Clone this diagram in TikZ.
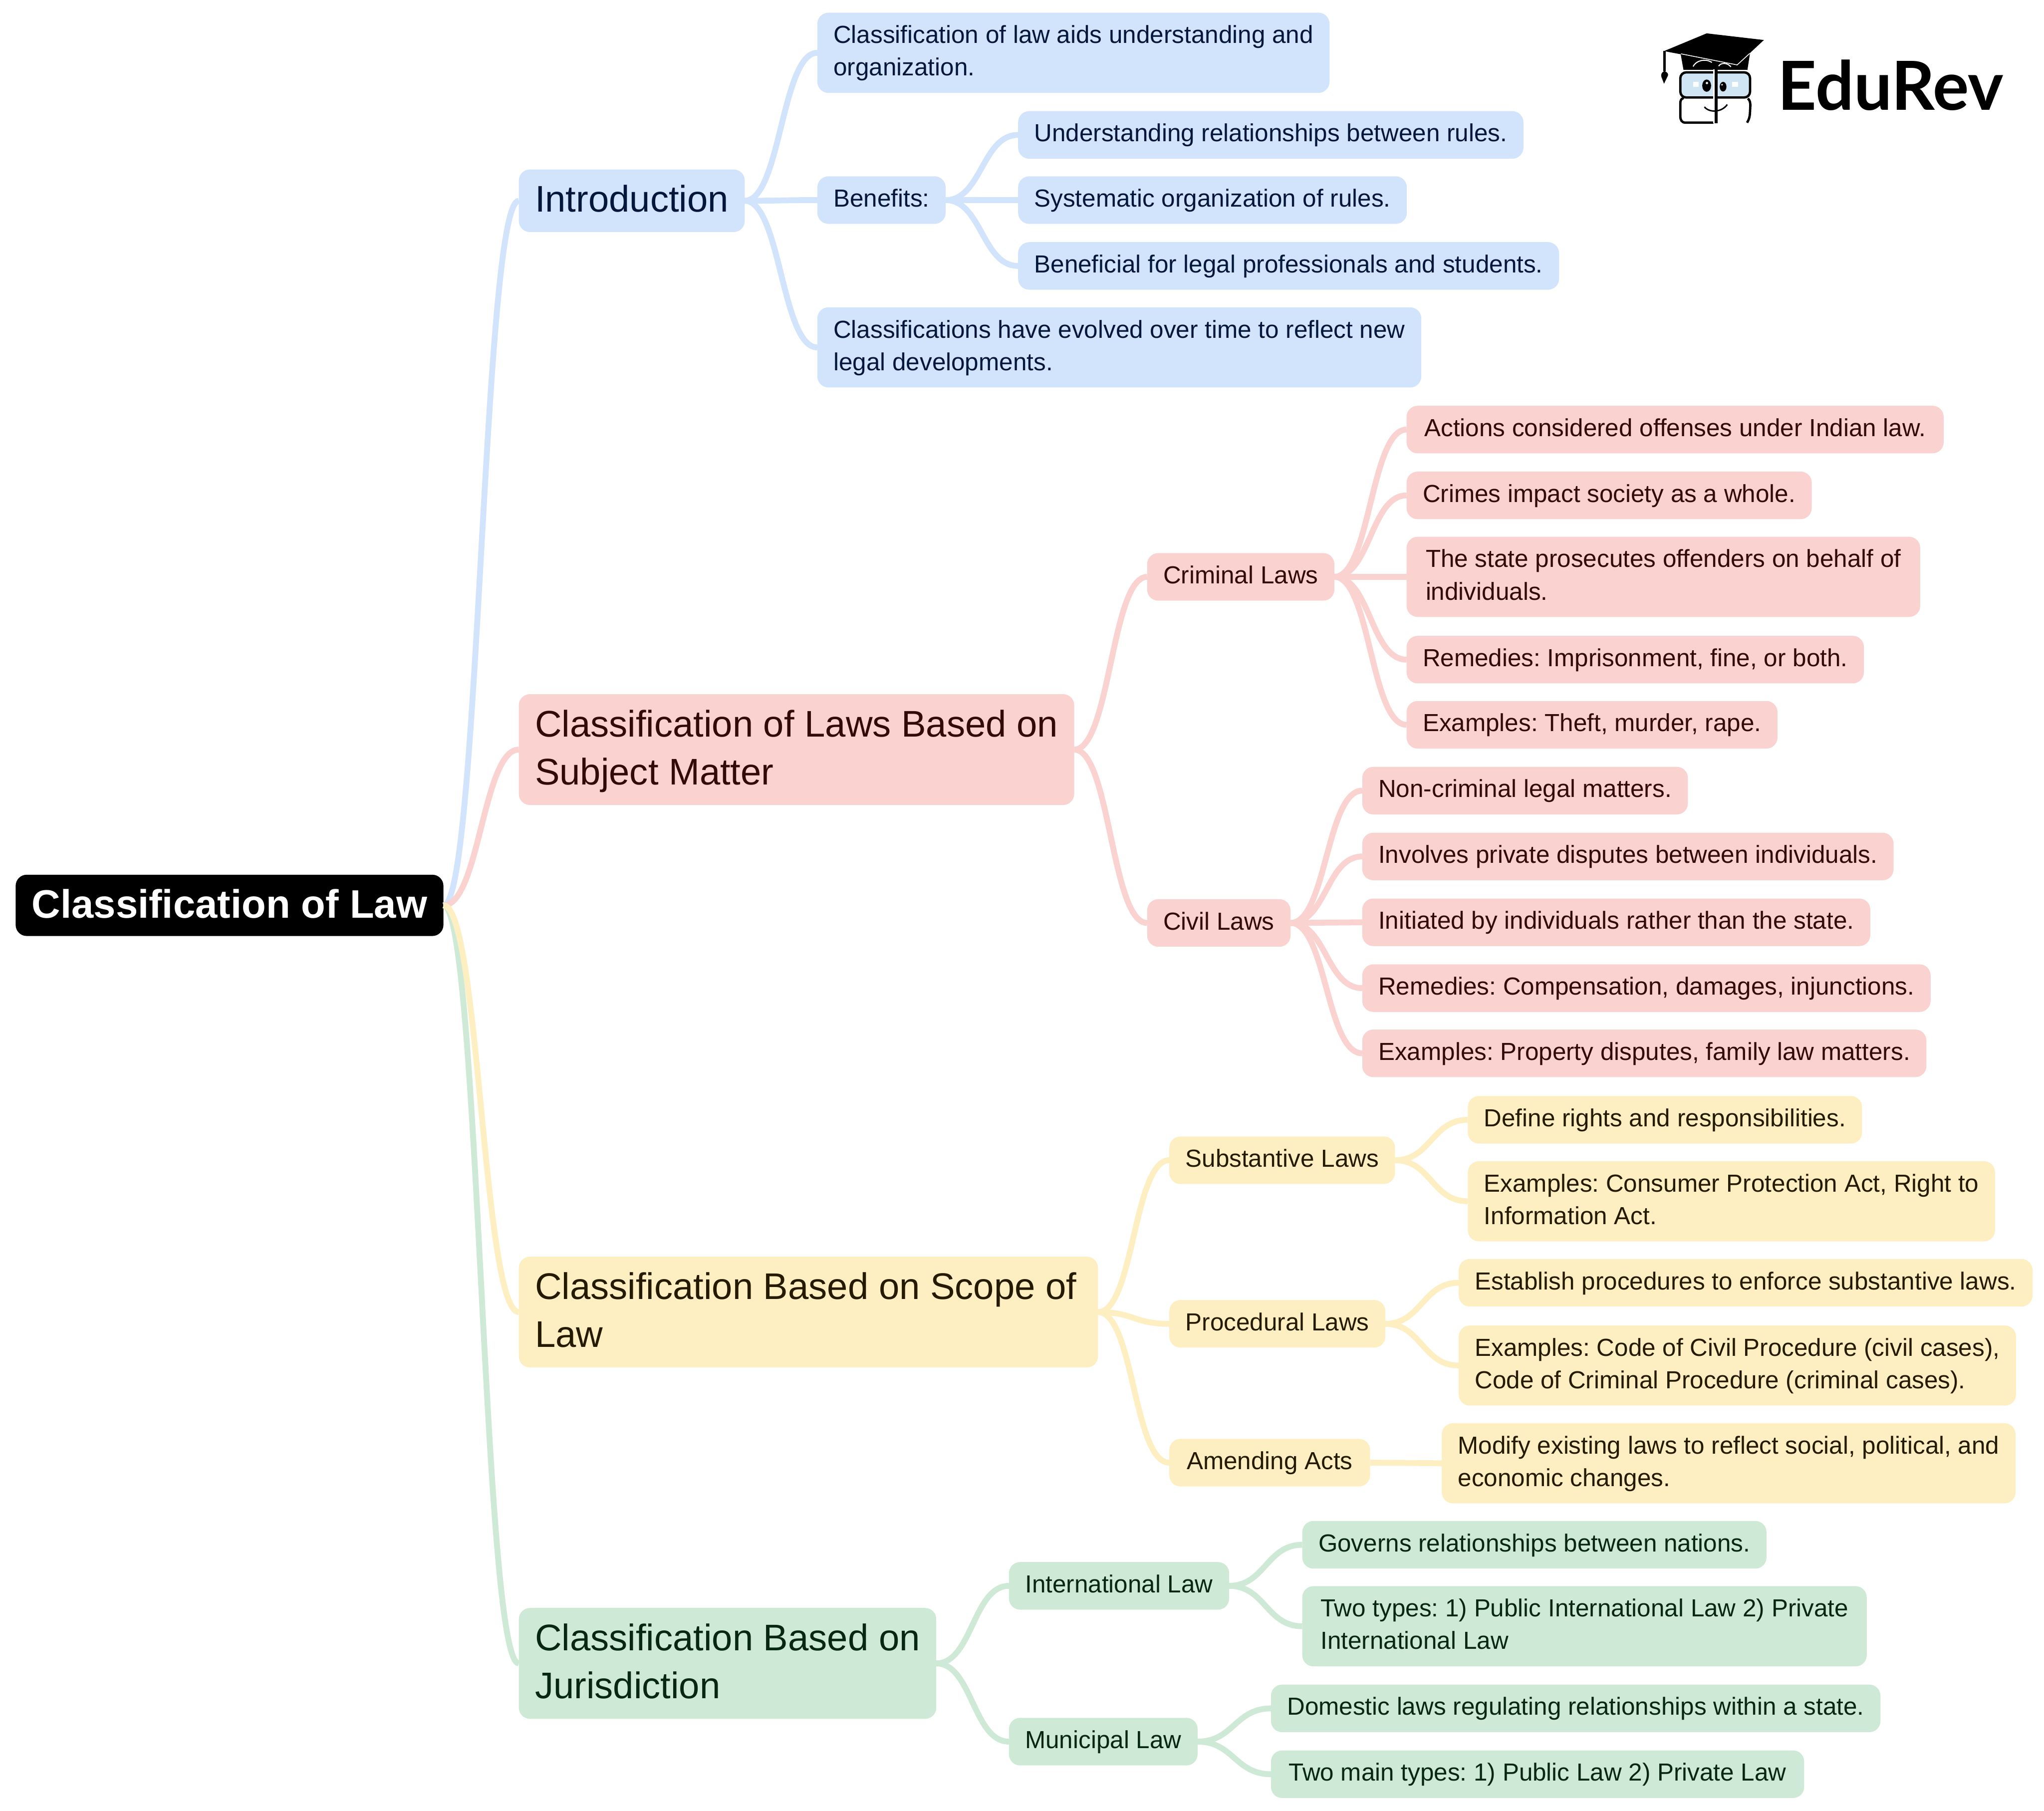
\documentclass[tikz,border=0pt]{standalone}
\usepackage{fontspec}
\setmainfont{Liberation Sans}
\newfontfamily\logofont{Lato}
\usetikzlibrary{positioning}
\definecolor{blueFill}{HTML}{D2E3FC}
\definecolor{blueText}{HTML}{03173A}
\definecolor{redFill}{HTML}{FAD2CF}
\definecolor{redText}{HTML}{330A07}
\definecolor{yellowFill}{HTML}{FEEFC3}
\definecolor{yellowText}{HTML}{241A00}
\definecolor{greenFill}{HTML}{CEEAD6}
\definecolor{greenText}{HTML}{072711}
\definecolor{lensColor}{HTML}{CFE5F3}
\newcommand{\boxfont}[3]{\fontsize{#1}{#2}\selectfont\setbox\strutbox\hbox{\vrule height #3\baselineskip depth \dimexpr\baselineskip-#3\baselineskip\relax width 0pt}}
\tikzset{
	box/.style={anchor=west, rounded corners=8.5pt, outer sep=0, inner xsep=6.4pt},
	leaf/.style={box, inner ysep=5.75pt, font=\boxfont{18.92}{25}{0.707}},
	branch/.style={box, inner ysep=5.5pt, font=\boxfont{28.42}{37}{0.731}},
	rootbox/.style={box, inner ysep=3.5pt, fill=black, text=white, font=\boxfont{30.5}{40}{0.746}\bfseries},
	blue/.style={fill=blueFill, text=blueText},
	red/.style={fill=redFill, text=redText},
	yellow/.style={fill=yellowFill, text=yellowText},
	green/.style={fill=greenFill, text=greenText},
	link/.style={line width=4.5pt, out=0, in=180, distance=27.5pt},
	bluelink/.style={link, draw=blueFill},
	redlink/.style={link, draw=redFill},
	yellowlink/.style={link, draw=yellowFill},
	greenlink/.style={link, draw=greenFill}
}
\frenchspacing

\begin{document}
\begin{tikzpicture}[x=1pt,y=-1pt]
	\useasboundingbox (0,0) rectangle (1568,1388.9);

	\node[rootbox] (root) at (12,694.5) {\begin{tabular}{l} Classification of Law \end{tabular}};

	% introduction
	\node[branch,blue] (intro) at (398,154) {\begin{tabular}{l} Introduction \end{tabular}};
	\node[leaf,blue] (aids) at (627,40.5) {\begin{tabular}{l} Classification of law aids understanding and \\ organization. \end{tabular}};
	\node[leaf,blue] (benefits) at (627,153.5) {\begin{tabular}{l} Benefits: \end{tabular}};
	\node[leaf,blue] (ben1) at (781,103.5) {\begin{tabular}{l} Understanding relationships between rules. \end{tabular}};
	\node[leaf,blue] (ben2) at (781,153.5) {\begin{tabular}{l} Systematic organization of rules. \end{tabular}};
	\node[leaf,blue] (ben3) at (781,204) {\begin{tabular}{l} Beneficial for legal professionals and students. \end{tabular}};
	\node[leaf,blue] (evolved) at (627,266.5) {\begin{tabular}{l} Classifications have evolved over time to reflect new \\ legal developments. \end{tabular}};

	% subject matter
	\node[branch,red] (subject) at (398,575) {\begin{tabular}{l} Classification of Laws Based on \\ Subject Matter \end{tabular}};
	\node[leaf,red] (criminal) at (880,442.5) {\begin{tabular}{l} Criminal Laws \end{tabular}};
	\node[leaf,red,minimum width=412pt] (crim1) at (1079,329.5) {\begin{tabular}{l} Actions considered offenses under Indian law. \end{tabular}};
	\node[leaf,red] (crim2) at (1079,380) {\begin{tabular}{l} Crimes impact society as a whole. \end{tabular}};
	\node[leaf,red,minimum width=394pt] (crim3) at (1079,442.5) {\begin{tabular}{l} The state prosecutes offenders on behalf of \\ individuals. \end{tabular}};
	\node[leaf,red] (crim4) at (1079,506) {\begin{tabular}{l} Remedies: Imprisonment, fine, or both. \end{tabular}};
	\node[leaf,red] (crim5) at (1079,556) {\begin{tabular}{l} Examples: Theft, murder, rape. \end{tabular}};
	\node[leaf,red] (civil) at (880,708) {\begin{tabular}{l} Civil Laws \end{tabular}};
	\node[leaf,red] (civ1) at (1045,606.5) {\begin{tabular}{l} Non-criminal legal matters. \end{tabular}};
	\node[leaf,red] (civ2) at (1045,657) {\begin{tabular}{l} Involves private disputes between individuals. \end{tabular}};
	\node[leaf,red] (civ3) at (1045,707.5) {\begin{tabular}{l} Initiated by individuals rather than the state. \end{tabular}};
	\node[leaf,red] (civ4) at (1045,758) {\begin{tabular}{l} Remedies: Compensation, damages, injunctions. \end{tabular}};
	\node[leaf,red] (civ5) at (1045,808) {\begin{tabular}{l} Examples: Property disputes, family law matters. \end{tabular}};

	% scope
	\node[branch,yellow] (scope) at (398,1006.5) {\begin{tabular}{l@{\hspace{10pt}}} Classification Based on Scope of \\ Law \end{tabular}};
	\node[leaf,yellow] (subst) at (897,890) {\begin{tabular}{l} Substantive Laws \end{tabular}};
	\node[leaf,yellow] (sub1) at (1126,859) {\begin{tabular}{l} Define rights and responsibilities. \end{tabular}};
	\node[leaf,yellow] (sub2) at (1126,921.5) {\begin{tabular}{l} Examples: Consumer Protection Act, Right to \\ Information Act. \end{tabular}};
	\node[leaf,yellow] (proc) at (897,1015.5) {\begin{tabular}{l} Procedural Laws \end{tabular}};
	\node[leaf,yellow] (proc1) at (1119,984) {\begin{tabular}{l} Establish procedures to enforce substantive laws. \end{tabular}};
	\node[leaf,yellow] (proc2) at (1119,1047.5) {\begin{tabular}{l} Examples: Code of Civil Procedure (civil cases), \\ Code of Criminal Procedure (criminal cases). \end{tabular}};
	\node[leaf,yellow,minimum width=154pt] (amend) at (897,1122) {\begin{tabular}{l} Amending Acts \end{tabular}};
	\node[leaf,yellow] (amend1) at (1106,1122.5) {\begin{tabular}{l} Modify existing laws to reflect social, political, and \\ economic changes. \end{tabular}};

	% jurisdiction
	\node[branch,green] (juris) at (398,1276) {\begin{tabular}{l} Classification Based on \\ Jurisdiction \end{tabular}};
	\node[leaf,green] (inter) at (774,1216.5) {\begin{tabular}{l} International Law \end{tabular}};
	\node[leaf,green] (inter1) at (999,1185) {\begin{tabular}{l} Governs relationships between nations. \end{tabular}};
	\node[leaf,green,minimum width=433pt] (inter2) at (999,1247.5) {\begin{tabular}{l} Two types: 1) Public International Law 2) Private \\ International Law \end{tabular}};
	\node[leaf,green] (muni) at (774,1336) {\begin{tabular}{l} Municipal Law \end{tabular}};
	\node[leaf,green] (muni1) at (975,1310.5) {\begin{tabular}{l} Domestic laws regulating relationships within a state. \end{tabular}};
	\node[leaf,green,minimum width=409pt] (muni2) at (975,1361) {\begin{tabular}{l} Two main types: 1) Public Law 2) Private Law \end{tabular}};

	\path (root.east) edge [bluelink] (intro.west);
	\path (root.east) edge [redlink] (subject.west);
	\path (root.east) edge [greenlink] (juris.west);
	\path (root.east) edge [yellowlink] (scope.west);

	\path (intro.east) edge [bluelink] (aids.west);
	\path (intro.east) edge [bluelink] (benefits.west);
	\path (intro.east) edge [bluelink] (evolved.west);
	\path (benefits.east) edge [bluelink] (ben1.west);
	\path (benefits.east) edge [bluelink] (ben2.west);
	\path (benefits.east) edge [bluelink] (ben3.west);

	\path (subject.east) edge [redlink] (criminal.west);
	\path (subject.east) edge [redlink] (civil.west);
	\path (criminal.east) edge [redlink] (crim1.west);
	\path (criminal.east) edge [redlink] (crim2.west);
	\path (criminal.east) edge [redlink] (crim3.west);
	\path (criminal.east) edge [redlink] (crim4.west);
	\path (criminal.east) edge [redlink] (crim5.west);
	\path (civil.east) edge [redlink] (civ1.west);
	\path (civil.east) edge [redlink] (civ2.west);
	\path (civil.east) edge [redlink] (civ3.west);
	\path (civil.east) edge [redlink] (civ4.west);
	\path (civil.east) edge [redlink] (civ5.west);

	\path (scope.east) edge [yellowlink] (subst.west);
	\path (scope.east) edge [yellowlink] (proc.west);
	\path (scope.east) edge [yellowlink] (amend.west);
	\path (subst.east) edge [yellowlink] (sub1.west);
	\path (subst.east) edge [yellowlink] (sub2.west);
	\path (proc.east) edge [yellowlink] (proc1.west);
	\path (proc.east) edge [yellowlink] (proc2.west);
	\path (amend.east) edge [yellowlink] (amend1.west);

	\path (juris.east) edge [greenlink] (inter.west);
	\path (juris.east) edge [greenlink] (muni.west);
	\path (inter.east) edge [greenlink] (inter1.west);
	\path (inter.east) edge [greenlink] (inter2.west);
	\path (muni.east) edge [greenlink] (muni1.west);
	\path (muni.east) edge [greenlink] (muni2.west);

	% logo
	\filldraw[rounded corners=4.5pt, fill=lensColor, line width=1.8pt] (1289,55.5) rectangle (1342.5,74.8);
	\draw[line width=1.8pt, line cap=round] (1314,94.1) -- (1293,94.1) .. controls (1290,94.1) and (1289,92) .. (1289,89) -- (1289,79) .. controls (1289,77) and (1290,75.5) .. (1291,75.5);
	\draw[line width=1.8pt] (1340.8,75.5) .. controls (1342.5,77) and (1342.7,79) .. (1342.7,81) -- (1342.4,87) .. controls (1342.2,90) and (1341.5,92) .. (1340.2,94.1);
	\fill (1289.3,41.7) -- (1291.4,53.5) -- (1340.5,53.5) -- (1342.4,41.1) -- cycle;
	\fill (1309.2,25.6) -- (1353.1,30.7) -- (1332.6,49.8) -- (1276.5,39.2) -- cycle;
	\draw[white, line width=0.6pt] (1289.5,41.3) -- (1332.6,49.8) -- (1342.2,41);
	\draw[line width=1.7pt] (1276.8,39.2) -- (1276.8,54.7);
	\fill (1276.8,54.7) .. controls (1279,55) and (1280,57) .. (1279.5,58) -- (1276.5,64.2) -- (1274.5,59) .. controls (1273.8,57) and (1275,55) .. (1276.8,54.7);
	\draw[white, line width=0.8pt] (1298.8,51) .. controls (1301,46.5) and (1308,44.5) .. (1313.2,47.9);
	\draw[white, line width=0.8pt] (1318.4,50.7) .. controls (1320,48) and (1325,47.8) .. (1327.8,51.3);
	\fill[white] (1314,53.3) rectangle (1315.4,94.6);
	\fill (1315.4,53.3) rectangle (1317.7,94.6);
	\fill (1309.2,65.7) ellipse (3.4pt and 4.7pt);
	\fill (1321.8,66.5) ellipse (2.6pt and 3.7pt);
	\fill[white] (1309.4,63.7) circle (0.9pt);
	\fill[white] (1321,65) circle (0.7pt);
	\fill[white] (1298.8,62.9) rectangle (1303,66.7);
	\fill[white] (1328.9,62.9) rectangle (1333.4,66.7);
	\draw[line width=1.1pt] (1307.5,82) .. controls (1311,86.5) and (1320.5,86.5) .. (1325,80.2);
	\node[anchor=base west, inner sep=0, font=\fontsize{51.9}{60}\selectfont\logofont\bfseries] (logo) at (1363.5,84.3) {EduRev};
\end{tikzpicture}
\end{document}
